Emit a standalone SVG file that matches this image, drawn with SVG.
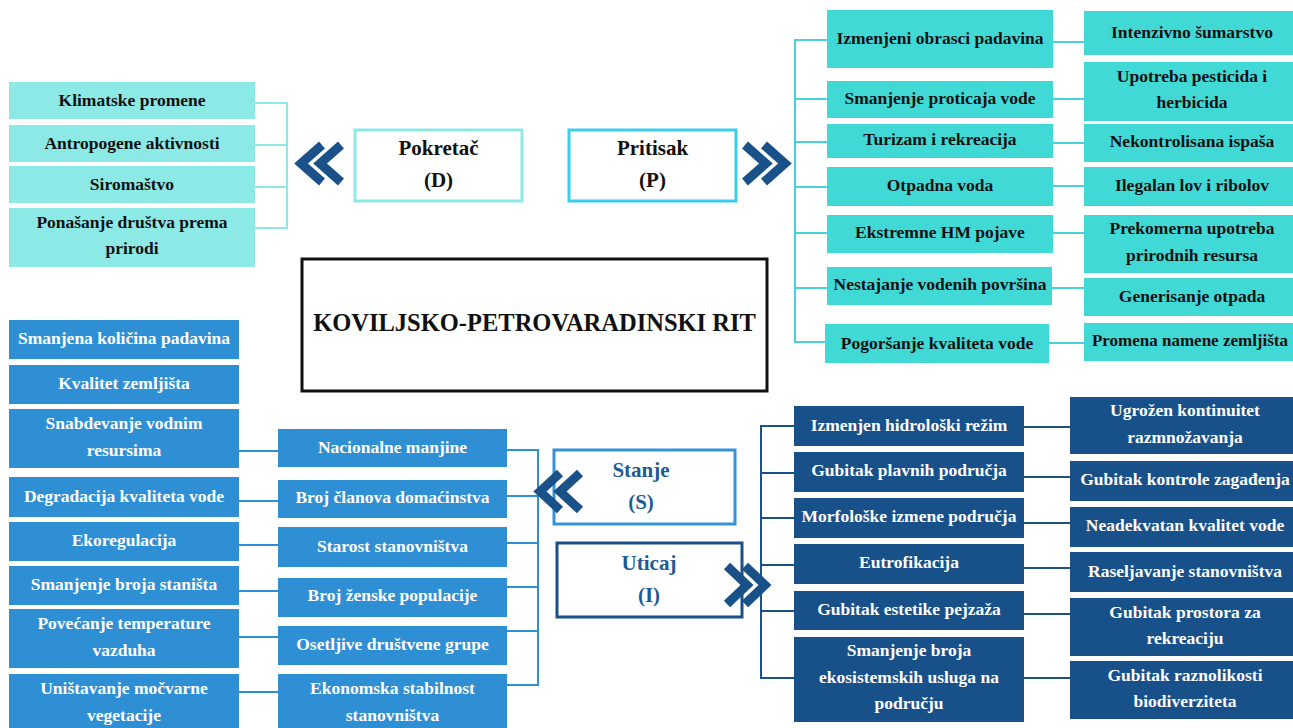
<svg xmlns="http://www.w3.org/2000/svg" width="1293" height="728" viewBox="0 0 1293 728">
<style>
text{font-family:"Liberation Serif","Times New Roman",serif;font-weight:bold;font-size:17.5px;text-anchor:middle;dominant-baseline:central}
.d rect{fill:#8CE9E6}
.p rect{fill:#40D9D6}
.s rect{fill:#2F8FD5}
.i rect{fill:#18508A}
.s text,.i text{fill:#fff}
.d text,.p text{fill:#111}
.hdr text{font-size:21px}
.cd{stroke:#8CE9E6;stroke-width:2;fill:none}
.cp{stroke:#45D2DA;stroke-width:2;fill:none}
.cs{stroke:#2F8FD5;stroke-width:2;fill:none}
.ci{stroke:#1B5189;stroke-width:2;fill:none}
.chev{stroke:#1B5189;stroke-width:9;fill:none;stroke-linejoin:miter;stroke-linecap:butt}
</style>
<rect width="1293" height="728" fill="#fff"/>

<g id="connectors">
<path class="cd" d="M255,103H287M255,145H287M255,187H287M255,228H287M287,102V229"/>
<path class="cp" d="M795,40H827M795,99H827M795,142H827M795,187H827M795,233H827M795,288H827M795,342H825M795,39V343"/>
<path class="cp" d="M1053,42H1084M1053,99H1084M1053,143H1084M1053,186H1084M1053,233H1084M1052,288H1084M1049,343H1084"/>
<path class="cs" d="M239,451H278M239,501H278M239,545H278M239,591H278M239,637H278M239,692H278"/>
<path class="cs" d="M507,450H538M507,496H538M507,543H538M507,587H538M507,631H538M507,685H538M538,449V686"/>
<path class="ci" d="M761,426H794M761,473H794M761,518H794M761,565H794M761,611H794M761,678H794M761,425V679"/>
<path class="ci" d="M1024,427H1070M1024,477H1070M1024,523H1070M1024,568H1070M1024,614H1070M1024,678H1070"/>
</g>

<g id="title">
<rect x="302" y="259" width="465" height="132" fill="#fff" stroke="#111" stroke-width="3"/>
<text x="534.5" y="322" style="font-size:24.5px" fill="#111">KOVILJSKO-PETROVARADINSKI RIT</text>
</g>

<g id="pokretac" class="hdr d">
<rect x="355" y="130" width="167" height="71" style="fill:#fff;stroke:#8CE9E6;stroke-width:3"/>
<text x="438.5" y="148">Pokretač</text>
<text x="438.5" y="180">(D)</text>
</g>
<g id="pritisak" class="hdr p">
<rect x="569" y="130" width="167" height="71" style="fill:#fff;stroke:#3CCDEB;stroke-width:3"/>
<text x="652.5" y="148">Pritisak</text>
<text x="652.5" y="180">(P)</text>
</g>
<g id="stanje" class="hdr">
<rect x="554" y="450" width="181" height="74" fill="#fff" stroke="#3592D6" stroke-width="3"/>
<text x="641" y="470" fill="#1F5B93">Stanje</text>
<text x="641" y="502" fill="#1F5B93">(S)</text>
</g>
<g id="uticaj" class="hdr">
<rect x="557" y="543" width="185" height="74" fill="#fff" stroke="#1A5089" stroke-width="3"/>
<text x="649" y="563" fill="#1F5B93">Uticaj</text>
<text x="649" y="595" fill="#1F5B93">(I)</text>
</g>

<g id="chevrons">
<polyline class="chev" points="322,145 301,163.5 322,182"/>
<polyline class="chev" points="341,145 320,163.5 341,182"/>
<polyline class="chev" points="745,145 766,163.5 745,182"/>
<polyline class="chev" points="764,145 785,163.5 764,182"/>
<polyline class="chev" points="560,473 540,491.5 560,510"/>
<polyline class="chev" points="580,473 560,491.5 580,510"/>
<polyline class="chev" points="727,566 747,585 727,604"/>
<polyline class="chev" points="745,566 765,585 745,604"/>
</g>

<!-- Drivers -->
<g id="d1" class="d"><rect x="9" y="82" width="246" height="37"/><text x="132" y="100">Klimatske promene</text></g>
<g id="d2" class="d"><rect x="9" y="125" width="246" height="37"/><text x="132" y="143">Antropogene aktivnosti</text></g>
<g id="d3" class="d"><rect x="9" y="166" width="246" height="37"/><text x="132" y="184">Siromaštvo</text></g>
<g id="d4" class="d"><rect x="9" y="208" width="246" height="59"/><text x="132" y="222">Ponašanje društva prema</text><text x="132" y="248">prirodi</text></g>

<!-- Pressures -->
<g id="p1" class="p"><rect x="827" y="10" width="226" height="58"/><text x="940" y="38">Izmenjeni obrasci padavina</text></g>
<g id="p2" class="p"><rect x="827" y="81" width="226" height="37"/><text x="940" y="98">Smanjenje proticaja vode</text></g>
<g id="p3" class="p"><rect x="827" y="124" width="226" height="34"/><text x="940" y="139">Turizam i rekreacija</text></g>
<g id="p4" class="p"><rect x="827" y="167" width="226" height="39"/><text x="940" y="185">Otpadna voda</text></g>
<g id="p5" class="p"><rect x="827" y="215" width="226" height="38"/><text x="940" y="232">Ekstremne HM pojave</text></g>
<g id="p6" class="p"><rect x="827" y="267" width="225" height="38"/><text x="940" y="284">Nestajanje vodenih površina</text></g>
<g id="p7" class="p"><rect x="825" y="324" width="224" height="39"/><text x="937" y="343">Pogoršanje kvaliteta vode</text></g>

<g id="p8" class="p"><rect x="1084" y="11" width="215" height="44"/><text x="1192" y="32">Intenzivno šumarstvo</text></g>
<g id="p9" class="p"><rect x="1084" y="62" width="215" height="59"/><text x="1192" y="76">Upotreba pesticida i</text><text x="1192" y="102">herbicida</text></g>
<g id="p10" class="p"><rect x="1084" y="124" width="215" height="38"/><text x="1192" y="141">Nekontrolisana ispaša</text></g>
<g id="p11" class="p"><rect x="1084" y="167" width="215" height="39"/><text x="1192" y="185">Ilegalan lov i ribolov</text></g>
<g id="p12" class="p"><rect x="1084" y="215" width="215" height="58"/><text x="1192" y="228">Prekomerna upotreba</text><text x="1192" y="255">prirodnih resursa</text></g>
<g id="p13" class="p"><rect x="1084" y="278" width="215" height="38"/><text x="1192" y="296">Generisanje otpada</text></g>
<g id="p14" class="p"><rect x="1084" y="323" width="215" height="38"/><text x="1190" y="340" style="font-size:17px">Promena namene zemljišta</text></g>

<!-- State -->
<g id="s1" class="s"><rect x="9" y="320" width="230" height="39"/><text x="124" y="338">Smanjena količina padavina</text></g>
<g id="s2" class="s"><rect x="9" y="365" width="230" height="39"/><text x="124" y="383">Kvalitet zemljišta</text></g>
<g id="s3" class="s"><rect x="9" y="409" width="230" height="59"/><text x="124" y="423">Snabdevanje vodnim</text><text x="124" y="450">resursima</text></g>
<g id="s4" class="s"><rect x="9" y="477" width="230" height="40"/><text x="124" y="496">Degradacija kvaliteta vode</text></g>
<g id="s5" class="s"><rect x="9" y="522" width="230" height="39"/><text x="124" y="540">Ekoregulacija</text></g>
<g id="s6" class="s"><rect x="9" y="566" width="230" height="39"/><text x="124" y="584">Smanjenje broja staništa</text></g>
<g id="s7" class="s"><rect x="9" y="609" width="230" height="59"/><text x="124" y="623">Povećanje temperature</text><text x="124" y="650">vazduha</text></g>
<g id="s8" class="s"><rect x="9" y="674" width="230" height="60"/><text x="124" y="688">Uništavanje močvarne</text><text x="124" y="715">vegetacije</text></g>

<g id="s9" class="s"><rect x="278" y="429" width="229" height="38"/><text x="392.5" y="447">Nacionalne manjine</text></g>
<g id="s10" class="s"><rect x="278" y="480" width="229" height="38"/><text x="392.5" y="497">Broj članova domaćinstva</text></g>
<g id="s11" class="s"><rect x="278" y="527" width="229" height="40"/><text x="392.5" y="546">Starost stanovništva</text></g>
<g id="s12" class="s"><rect x="278" y="578" width="229" height="39"/><text x="392.5" y="595">Broj ženske populacije</text></g>
<g id="s13" class="s"><rect x="278" y="626" width="229" height="39"/><text x="392.5" y="644">Osetljive društvene grupe</text></g>
<g id="s14" class="s"><rect x="278" y="674" width="229" height="60"/><text x="392.5" y="688">Ekonomska stabilnost</text><text x="392.5" y="715">stanovništva</text></g>

<!-- Impact -->
<g id="i1" class="i"><rect x="794" y="406" width="230" height="40"/><text x="909" y="425">Izmenjen hidrološki režim</text></g>
<g id="i2" class="i"><rect x="794" y="452" width="230" height="40"/><text x="909" y="470">Gubitak plavnih područja</text></g>
<g id="i3" class="i"><rect x="794" y="498" width="230" height="40"/><text x="909" y="516">Morfološke izmene područja</text></g>
<g id="i4" class="i"><rect x="794" y="544" width="230" height="40"/><text x="909" y="562">Eutrofikacija</text></g>
<g id="i5" class="i"><rect x="794" y="591" width="230" height="39"/><text x="909" y="609">Gubitak estetike pejzaža</text></g>
<g id="i6" class="i"><rect x="794" y="637" width="230" height="85"/><text x="909" y="650">Smanjenje broja</text><text x="909" y="677">ekosistemskih usluga na</text><text x="909" y="703">području</text></g>

<g id="i7" class="i"><rect x="1070" y="397" width="229" height="57"/><text x="1185" y="410">Ugrožen kontinuitet</text><text x="1185" y="437">razmnožavanja</text></g>
<g id="i8" class="i"><rect x="1070" y="461" width="229" height="40"/><text x="1185" y="479">Gubitak kontrole zagađenja</text></g>
<g id="i9" class="i"><rect x="1070" y="507" width="229" height="40"/><text x="1185" y="525">Neadekvatan kvalitet vode</text></g>
<g id="i10" class="i"><rect x="1070" y="552" width="229" height="40"/><text x="1185" y="571">Raseljavanje stanovništva</text></g>
<g id="i11" class="i"><rect x="1070" y="598" width="229" height="58"/><text x="1185" y="612">Gubitak prostora za</text><text x="1185" y="638">rekreaciju</text></g>
<g id="i12" class="i"><rect x="1070" y="661" width="229" height="58"/><text x="1185" y="675">Gubitak raznolikosti</text><text x="1185" y="701">biodiverziteta</text></g>
</svg>
